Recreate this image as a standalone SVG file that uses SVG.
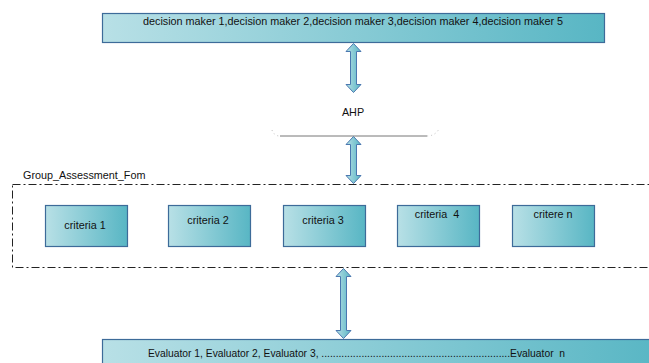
<svg xmlns="http://www.w3.org/2000/svg" width="649" height="363" viewBox="0 0 649 363">
  <style>
    .box { fill: url(#teal); stroke: #3d6b99; stroke-width: 1.2; }
    .lbl { font-family: "Liberation Sans", Arial, sans-serif; font-size: 10.8px; fill: #111; }
    .mid { text-anchor: middle; }
    .arrow { fill: url(#teal); stroke: #4a78b0; stroke-width: 1; stroke-linejoin: miter; }
    .frame { fill: none; stroke: #222; stroke-width: 1; stroke-dasharray: 8 3 2 3; }
  </style>
  <defs>
    <linearGradient id="teal" x1="0" y1="0" x2="1" y2="0">
      <stop offset="0" stop-color="#b8e0e6"/>
      <stop offset="1" stop-color="#58b6c4"/>
    </linearGradient>
  </defs>

  <!-- decision makers -->
  <g id="decision-makers">
    <rect class="box" x="102.5" y="13.5" width="502" height="29"/>
    <text class="lbl" x="143" y="25" textLength="420" lengthAdjust="spacingAndGlyphs">decision maker 1,decision maker 2,decision maker 3,decision maker 4,decision maker 5</text>
  </g>

  <!-- AHP -->
  <g id="ahp">
    <text class="lbl mid" x="353" y="116">AHP</text>
    <line x1="280" y1="136" x2="427" y2="136" stroke="#777" stroke-width="1"/>
    <path d="M272,130 Q274,136 280,136" fill="none" stroke="#bbb" stroke-width="1" stroke-dasharray="1 3"/>
    <path d="M427,136 Q435,136 439,129" fill="none" stroke="#bbb" stroke-width="1" stroke-dasharray="1 3"/>
  </g>

  <!-- assessment group -->
  <g id="group-assessment">
    <rect class="frame" x="12.5" y="184.5" width="660" height="83"/>
    <text class="lbl" x="23" y="179">Group_Assessment_Fom</text>
  </g>

  <g id="criteria-1">
    <rect class="box" x="45.5" y="205.5" width="82" height="41"/>
    <text class="lbl mid" x="85" y="229">criteria 1</text>
  </g>
  <g id="criteria-2">
    <rect class="box" x="168.5" y="205.5" width="82" height="41"/>
    <text class="lbl mid" x="208" y="224">criteria 2</text>
  </g>
  <g id="criteria-3">
    <rect class="box" x="283.5" y="205.5" width="82" height="41"/>
    <text class="lbl mid" x="323" y="224">criteria 3</text>
  </g>
  <g id="criteria-4">
    <rect class="box" x="397.5" y="205.5" width="82" height="41"/>
    <text class="lbl mid" x="437" y="218" xml:space="preserve">criteria  4</text>
  </g>
  <g id="critere-n">
    <rect class="box" x="512.5" y="205.5" width="82" height="41"/>
    <text class="lbl mid" x="553" y="218">critere n</text>
  </g>

  <!-- evaluators -->
  <g id="evaluators">
    <rect class="box" x="102.5" y="339.5" width="560" height="30"/>
    <text class="lbl" x="148" y="357" textLength="417" lengthAdjust="spacingAndGlyphs" xml:space="preserve">Evaluator 1, Evaluator 2, Evaluator 3, ..................................................................Evaluator  n</text>
  </g>

  <!-- double-headed connectors -->
  <g id="connectors">
    <path class="arrow" d="M353.5,43.5 l7.5,8 h-4.5 v33 h4.5 l-7.5,8 l-7.5,-8 h4.5 v-33 h-4.5 z"/>
    <path class="arrow" d="M353.5,136.5 l7.5,8 h-4.5 v31 h4.5 l-7.5,8 l-7.5,-8 h4.5 v-31 h-4.5 z"/>
    <path class="arrow" d="M343.5,268.5 l7.5,8 h-4.5 v54 h4.5 l-7.5,8 l-7.5,-8 h4.5 v-54 h-4.5 z"/>
  </g>
</svg>
